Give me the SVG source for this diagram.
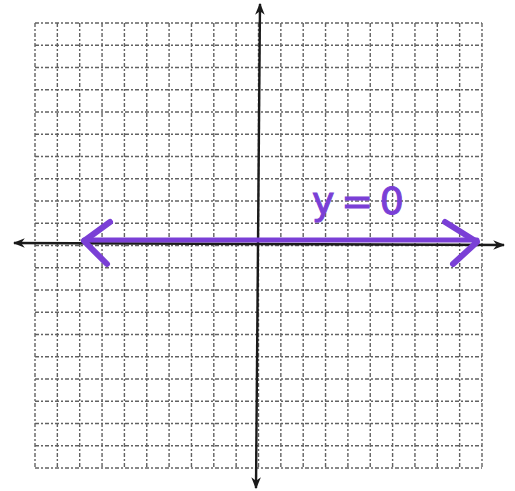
<svg xmlns="http://www.w3.org/2000/svg" width="515" height="491" viewBox="0 0 515 491">
<defs>
<style>
.grid{stroke:#3c3c3c;stroke-width:1.4;stroke-dasharray:4 2 2 2;fill:none;opacity:0.8}
.axis{stroke:#1a1a1a;stroke-width:2.4;fill:none}
.purple{stroke:#7a3fd6;stroke-linecap:round;stroke-linejoin:round;fill:none}
.lbl{font-family:"DejaVu Sans","Liberation Sans",sans-serif;font-size:38px;fill:#7a3fd6;stroke:#7a3fd6;stroke-width:1}
</style>
<marker id="ah" viewBox="0 0 10 10" refX="9" refY="5" markerWidth="5" markerHeight="5" orient="auto">
<path d="M0,1 L10,5 L0,9 L3,5 Z" fill="#1a1a1a"/>
</marker>
</defs>
<rect width="515" height="491" fill="#ffffff"/>
<g id="grid" class="grid">
<path d="M35,23V468M57.35,23V468M79.7,23V468M102.05,23V468M124.4,23V468M146.75,23V468M169.1,23V468M191.45,23V468M213.8,23V468M236.15,23V468M258.5,23V468M280.85,23V468M303.2,23V468M325.55,23V468M347.9,23V468M370.25,23V468M392.6,23V468M414.95,23V468M437.3,23V468M459.65,23V468M482,23V468"/>
<path d="M35,23H482M35,45.25H482M35,67.5H482M35,89.75H482M35,112H482M35,134.25H482M35,156.5H482M35,178.75H482M35,201H482M35,223.25H482M35,245.5H482M35,267.75H482M35,290H482M35,312.25H482M35,334.5H482M35,356.75H482M35,379H482M35,401.25H482M35,423.5H482M35,445.75H482M35,468H482"/>
</g>
<g id="connectors">
<g id="x-axis"><line class="axis" x1="258" y1="244" x2="14" y2="243" marker-end="url(#ah)"/><line class="axis" x1="258" y1="244" x2="504" y2="245" marker-end="url(#ah)"/></g>
<g id="y-axis"><line class="axis" x1="258" y1="244" x2="260" y2="4" marker-end="url(#ah)"/><line class="axis" x1="258" y1="244" x2="256" y2="488" marker-end="url(#ah)"/></g>
<g id="line-y0">
<path class="purple" stroke-width="5" d="M84,240 L477,240"/>
<path class="purple" stroke-width="6" d="M110,222 L84,241 L107,264"/>
<path class="purple" stroke-width="6" d="M445,222 L477,242 L453,264"/>
</g>
</g>
<g id="label"><text class="lbl" x="312" y="214" textLength="92" lengthAdjust="spacing">y=0</text></g>
</svg>
